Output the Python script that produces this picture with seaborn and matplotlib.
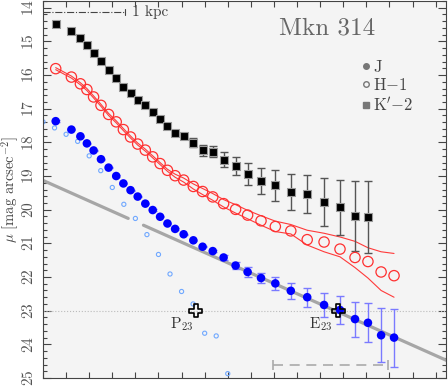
import numpy as np
import pandas as pd
import seaborn as sns
import matplotlib.pyplot as plt
from matplotlib.lines import Line2D
from matplotlib.ticker import MultipleLocator

# radius in arcsec, shared by the J, H and K' profiles
radius = [0.55, 1.23, 1.62, 1.90, 2.19, 2.51, 2.84, 3.17, 3.48, 3.79,
          4.10, 4.43, 4.75, 5.07, 5.39, 5.72, 6.09, 6.51, 6.91, 7.35,
          7.82, 8.34, 8.86, 9.44, 10.06, 10.73, 11.44, 12.17, 12.86, 13.51,
          14.07, 14.64, 15.20]

mu_j = [17.37, 17.62, 17.82, 18.03, 18.24, 18.50, 18.75, 19.00, 19.22, 19.42,
        19.61, 19.82, 20.01, 20.21, 20.41, 20.57, 20.73, 20.91, 21.10, 21.23,
        21.42, 21.66, 21.85, 22.03, 22.19, 22.41, 22.60, 22.83, 22.98, 23.25,
        23.36, 23.73, 23.80]
err_j = [0.02] * 19 + [0.04, 0.06, 0.10, 0.15, 0.14, 0.19, 0.24, 0.28, 0.36,
                       0.41, 0.52, 0.58, 0.80, 0.86]

# H - 1
mu_h = [15.81, 16.06, 16.26, 16.43, 16.65, 16.90, 17.17, 17.39, 17.62, 17.84,
        18.05, 18.23, 18.43, 18.63, 18.83, 18.99, 19.12, 19.31, 19.46, 19.62,
        19.82, 19.99, 20.16, 20.33, 20.50, 20.63, 20.89, 20.96, 21.17, 21.42,
        21.54, 21.85, 21.96]
h_err_up = [0.03] * 15 + [0.045, 0.06, 0.075, 0.09, 0.10, 0.12, 0.14, 0.14, 0.15,
                          0.16, 0.19, 0.28, 0.26, 0.36, 0.48, 0.41, 0.60, 0.66]
h_err_dn = [0.03] * 15 + [0.045, 0.06, 0.075, 0.09, 0.10, 0.10, 0.11, 0.11, 0.13,
                          0.15, 0.09, 0.16, 0.29, 0.23, 0.30, 0.49, 0.55, 0.64]

# K' - 2
mu_k = [14.47, 14.70, 14.90, 15.11, 15.34, 15.59, 15.86, 16.10, 16.35, 16.53,
        16.73, 16.90, 17.11, 17.31, 17.51, 17.72, 17.81, 18.01, 18.23, 18.28,
        18.51, 18.70, 18.93, 19.15, 19.28, 19.47, 19.54, 19.78, 19.93, 20.18,
        20.23]
err_k = [0.02] * 15 + [0.04, 0.07, 0.13, 0.16, 0.16, 0.22, 0.27, 0.33, 0.39,
                       0.45, 0.53, 0.56, 0.71, 0.82, 1.04, 1.07]

# residual / underlying profile (small open circles)
r_res = [0.0, 0.5, 1.0, 1.5, 2.0, 2.5, 3.0, 3.5, 4.0, 4.5, 5.0, 5.5, 6.0,
         6.5, 7.0, 7.5, 8.0]
mu_res = [17.39, 17.57, 17.76, 17.97, 18.40, 18.84, 19.34, 19.84, 20.26,
          20.74, 21.33, 21.91, 22.43, 22.80, 23.67, 23.75, 24.87]

# exponential fit to the outer J profile
fit_mu0 = 19.13
fit_slope = 0.306
fit_segments = [[0.0, 3.69], [4.35, 17.5]]
fit_range = [9.97, 14.96]

p23 = (6.61, 23.0)
e23 = (12.79, 23.0)
kpc_arcsec = 3.55

sns.set_style("ticks", {"axes.facecolor": "#f4f4f4", "axes.edgecolor": "#444444",
                        "xtick.direction": "in", "ytick.direction": "in"})
plt.rcParams['font.family'] = ['cmr10', 'DejaVu Serif']
plt.rcParams['mathtext.fontset'] = 'cm'
plt.rcParams['axes.formatter.use_mathtext'] = True

fig = plt.figure(figsize=(4.48, 3.87), dpi=100)
ax = fig.add_axes([43 / 448, 9 / 387, 403 / 448, 377 / 387])

jd = pd.DataFrame({"r": radius, "mu": mu_j, "err": err_j})
hd = pd.DataFrame({"r": radius, "mu": mu_h,
                   "hi": np.array(mu_h) - np.array(h_err_up),
                   "lo": np.array(mu_h) + np.array(h_err_dn)})
kd = pd.DataFrame({"r": radius[:len(mu_k)], "mu": mu_k, "err": err_k})

ax.axhline(23, color="#bbbbbb", ls=":", lw=0.8, zorder=1)

# fit line, drawn in two pieces
for seg in fit_segments:
    xs = np.array(seg)
    sns.lineplot(x=xs, y=fit_mu0 + fit_slope * xs, ax=ax, color="#a6a6a6",
                 lw=2.3, zorder=2)

sns.scatterplot(x=r_res, y=mu_res, ax=ax, marker="o", s=9, facecolors="none",
                edgecolor="#70a8ff", linewidth=0.8, zorder=2)

# H envelope
sns.lineplot(data=hd, x="r", y="hi", ax=ax, color="#ff3a3a", lw=0.8, zorder=3)
sns.lineplot(data=hd, x="r", y="lo", ax=ax, color="#ff3a3a", lw=0.8, zorder=3)
sns.scatterplot(data=hd, x="r", y="mu", ax=ax, marker="o", s=55,
                facecolors="none", edgecolor="#ff3030", linewidth=0.9, zorder=4)

ax.errorbar(kd.r, kd.mu, yerr=kd.err, fmt="none", ecolor="#555555",
            elinewidth=1, capsize=3, capthick=1, zorder=3)
sns.scatterplot(data=kd, x="r", y="mu", ax=ax, marker="s", s=32, color="black",
                edgecolor="#9a9a9a", linewidth=0.8, zorder=4)

ax.errorbar(jd.r, jd.mu, yerr=jd.err, fmt="none", ecolor="#7a7aff",
            elinewidth=1, capsize=3, capthick=1, zorder=3)
sns.scatterplot(data=jd, x="r", y="mu", ax=ax, marker="o", s=38, color="#0000ff",
                edgecolor="none", zorder=4)

for pt in (p23, e23):
    ax.scatter(*pt, marker="P", s=80, facecolors="none", edgecolors="black",
               linewidths=1.2, zorder=6)
ax.text(p23[0] - 1.1, 23.52, r"P$_{23}$", fontsize=11, color="#333333",
        va="baseline", ha="left")
ax.text(e23[0] - 1.27, 23.52, r"E$_{23}$", fontsize=11, color="#333333",
        va="baseline", ha="left")

# 1 kpc scale bar
ax.plot([0, kpc_arcsec], [14.13, 14.13], ls="-.", color="#444444", lw=0.8)
ax.plot([kpc_arcsec, kpc_arcsec], [14.03, 14.23], color="#444444", lw=0.8)
ax.text(kpc_arcsec + 0.3, 14.13, "1 kpc", fontsize=11, color="#444444",
        va="center", ha="left")

# fit range marker
ax.plot(fit_range, [24.61, 24.61], ls="--", dashes=(6, 4), color="#aaaaaa", lw=1.2)
ax.vlines(fit_range, 24.47, 24.75, color="#aaaaaa", lw=1.2)

ax.text(0.705, 0.928, "Mkn 314", transform=ax.transAxes, fontsize=18,
        color="#666666", ha="center", va="center")

handles = [Line2D([], [], ls="none", marker="o", ms=4, color="#777777"),
           Line2D([], [], ls="none", marker="o", ms=4, mfc="none", mec="#777777"),
           Line2D([], [], ls="none", marker="s", ms=4, color="#777777")]
ax.legend(handles, ["J", r"H$-$1", r"K$'$$-$2"], loc="upper left",
          bbox_to_anchor=(0.792, 0.845), frameon=False, fontsize=12,
          handlelength=0.5, handletextpad=0.15, labelspacing=0.15,
          borderpad=0, borderaxespad=0, labelcolor="#444444")

ax.set_xlim(0, 17.45)
ax.set_ylim(25, 13.8)
ax.xaxis.set_major_locator(MultipleLocator(1))
ax.yaxis.set_major_locator(MultipleLocator(1))
ax.yaxis.set_minor_locator(MultipleLocator(0.2))
ax.tick_params(which="both", direction="in", top=True, right=True,
               color="#444444", width=0.8)
ax.tick_params(axis="x", labelbottom=False, length=4)
ax.tick_params(axis="y", which="major", length=6, labelrotation=90,
               labelsize=11, labelcolor="#555555", pad=5)
ax.tick_params(axis="y", which="minor", length=3)
for lab in ax.get_yticklabels():
    lab.set_va("center")
ax.set_xlabel("")
ax.set_ylabel(r"$\mu$ [mag arcsec$^{-2}$]", fontsize=10.5, color="#444444")
ax.yaxis.set_label_coords(-0.055, 0.5)
for sp in ax.spines.values():
    sp.set_linewidth(0.8)

fig.savefig("out.png", dpi=100)
